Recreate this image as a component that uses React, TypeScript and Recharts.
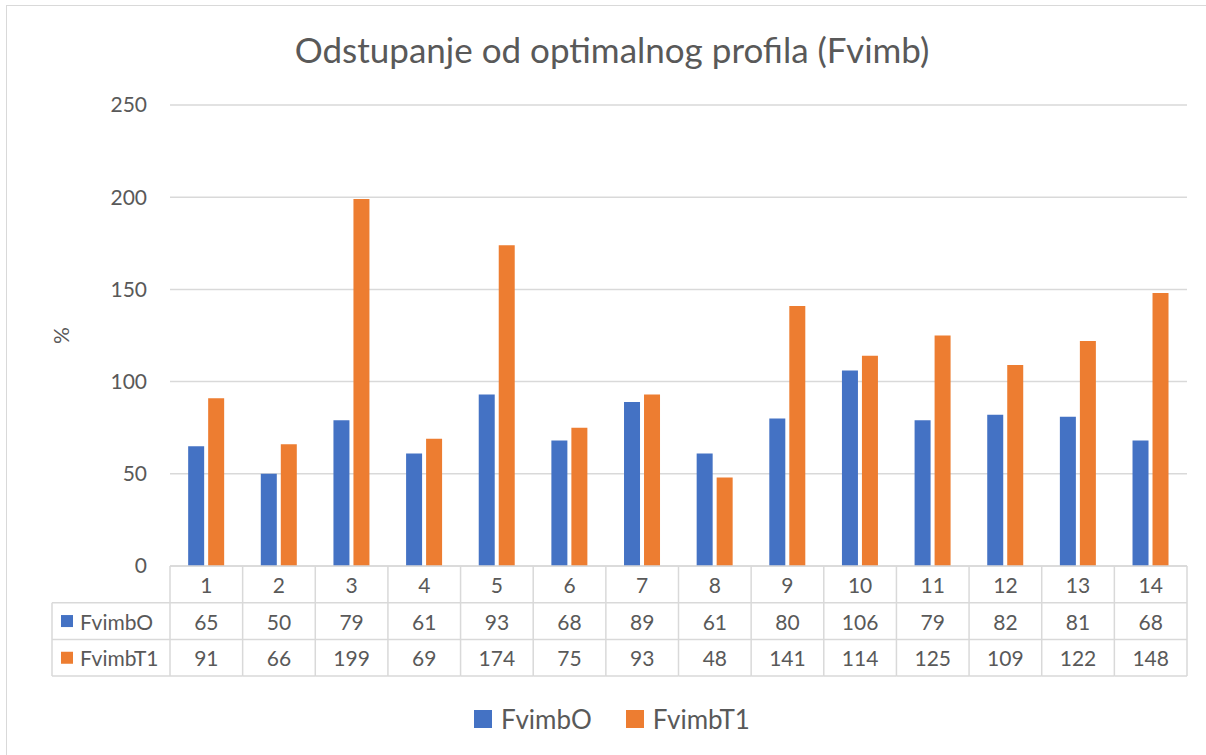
import React from 'react';
import { BarChart, Bar, XAxis, YAxis, CartesianGrid } from 'recharts';

const categories = ['1', '2', '3', '4', '5', '6', '7', '8', '9', '10', '11', '12', '13', '14'];
const fvimbO = [65, 50, 79, 61, 93, 68, 89, 61, 80, 106, 79, 82, 81, 68];
const fvimbT1 = [91, 66, 199, 69, 174, 75, 93, 48, 141, 114, 125, 109, 122, 148];
const seriesNames = ['FvimbO', 'FvimbT1'];
const seriesColors = ['#4472C4', '#ED7D31'];
const yTicks = [0, 50, 100, 150, 200, 250];
const title = 'Odstupanje od optimalnog profila (Fvimb)';
const yLabel = '%';

const seriesValues = [fvimbO, fvimbT1];
const data = categories.map((c, i) => ({ cat: c, FvimbO: fvimbO[i], FvimbT1: fvimbT1[i] }));

const W = 1206;
const H = 755;
const PLOT_LEFT = 170;
const PLOT_RIGHT = 1187;
const PLOT_TOP = 105;
const PLOT_BOTTOM = 566;
const ROW_H = 36.7;
const LEFT_COL_X = 52;
const FONT = 'Lato, "Open Sans", sans-serif';
const TXT = '#595959';
const GRID = '#D9D9D9';

const TableTick = (props: any) => {
  const { x, y, payload } = props;
  const i = payload.index;
  const n = categories.length;
  const bw = (PLOT_RIGHT - PLOT_LEFT) / n;
  const left = x - bw / 2;
  const right = x + bw / 2;
  const els: any[] = [];
  els.push(<line key="vl" x1={left} x2={left} y1={y} y2={y + 3 * ROW_H} stroke={GRID} strokeWidth={1.5} />);
  if (i === n - 1) {
    els.push(<line key="vr" x1={right} x2={right} y1={y} y2={y + 3 * ROW_H} stroke={GRID} strokeWidth={1.5} />);
  }
  for (let r = 1; r <= 3; r++) {
    els.push(<line key={'h' + r} x1={left} x2={right} y1={y + r * ROW_H} y2={y + r * ROW_H} stroke={GRID} strokeWidth={1.5} />);
  }
  els.push(
    <text key="c" x={x} y={y + ROW_H / 2} textAnchor="middle" dominantBaseline="central" fill={TXT} fontSize={21} fontFamily={FONT}>
      {payload.value}
    </text>
  );
  seriesValues.forEach((vals, s) => {
    els.push(
      <text key={'v' + s} x={x} y={y + (s + 1.5) * ROW_H} textAnchor="middle" dominantBaseline="central" fill={TXT} fontSize={21} fontFamily={FONT}>
        {vals[i]}
      </text>
    );
  });
  if (i === 0) {
    els.push(<line key="lv" x1={LEFT_COL_X} x2={LEFT_COL_X} y1={y + ROW_H} y2={y + 3 * ROW_H} stroke={GRID} strokeWidth={1.5} />);
    for (let r = 1; r <= 3; r++) {
      els.push(<line key={'lh' + r} x1={LEFT_COL_X} x2={left} y1={y + r * ROW_H} y2={y + r * ROW_H} stroke={GRID} strokeWidth={1.5} />);
    }
    seriesNames.forEach((nm, s) => {
      const cy = y + (s + 1.5) * ROW_H;
      els.push(<rect key={'ls' + s} x={61} y={cy - 6} width={12} height={12} fill={seriesColors[s]} />);
      els.push(
        <text key={'ln' + s} x={80} y={cy} dominantBaseline="central" fill={TXT} fontSize={21} fontFamily={FONT}>
          {nm}
        </text>
      );
    });
  }
  return <g>{els}</g>;
};

const YLabel = (props: any) => {
  const vb = props.viewBox || {};
  const cy = (vb.y ?? PLOT_TOP) + (vb.height ?? PLOT_BOTTOM - PLOT_TOP) / 2;
  return (
    <text x={60} y={cy} transform={`rotate(-90, 60, ${cy})`} textAnchor="middle" dominantBaseline="central" fill={TXT} fontSize={21} fontFamily={FONT}>
      {yLabel}
    </text>
  );
};

export default function App() {
  return (
    <div style={{ position: 'fixed', left: 0, top: 0, width: W, height: H, overflow: 'hidden', background: '#fff' }}>
      <div style={{ position: 'absolute', left: 6, top: 5, width: W + 20, height: H + 20, border: `1.5px solid ${GRID}`, boxSizing: 'border-box' }} />
      <div style={{ position: 'absolute', left: 0, top: 0 }}>
        <BarChart
          width={W}
          height={H}
          data={data}
          margin={{ top: PLOT_TOP, right: W - PLOT_RIGHT, bottom: 0, left: 0 }}
          barCategoryGap="25%"
          barGap={4}
        >
          <CartesianGrid vertical={false} stroke={GRID} strokeWidth={1.5} />
          <XAxis
            dataKey="cat"
            height={H - PLOT_BOTTOM}
            axisLine={{ stroke: GRID, strokeWidth: 1.5 }}
            tickLine={false}
            tickSize={0}
            tickMargin={0}
            interval={0}
            tick={<TableTick />}
          />
          <YAxis
            width={PLOT_LEFT}
            domain={[0, 250]}
            ticks={yTicks}
            axisLine={false}
            tickLine={false}
            tickSize={6}
            tickMargin={17}
            tick={{ fill: TXT, fontSize: 21, fontFamily: FONT }}
            label={<YLabel />}
          />
          {seriesNames.map((nm, s) => (
            <Bar key={nm} dataKey={nm} fill={seriesColors[s]} isAnimationActive={false} />
          ))}
        </BarChart>
      </div>
      <div style={{ position: 'absolute', top: 29, left: 9, width: W, fontFamily: FONT, fontSize: 35, color: TXT, lineHeight: '40px', textAlign: 'center' }}>
        {title}
      </div>
      <div style={{ position: 'absolute', top: 700, left: 0, width: W, display: 'flex', justifyContent: 'center', paddingLeft: 18, boxSizing: 'border-box', fontFamily: FONT, fontSize: 26, color: TXT }}>
        {seriesNames.map((nm, s) => (
          <div key={nm} style={{ display: 'flex', alignItems: 'center', marginRight: s === 0 ? 34 : 0 }}>
            <div style={{ width: 18, height: 18, background: seriesColors[s], marginRight: 9 }} />
            <span style={{ lineHeight: '38px' }}>{nm}</span>
          </div>
        ))}
      </div>
    </div>
  );
}
